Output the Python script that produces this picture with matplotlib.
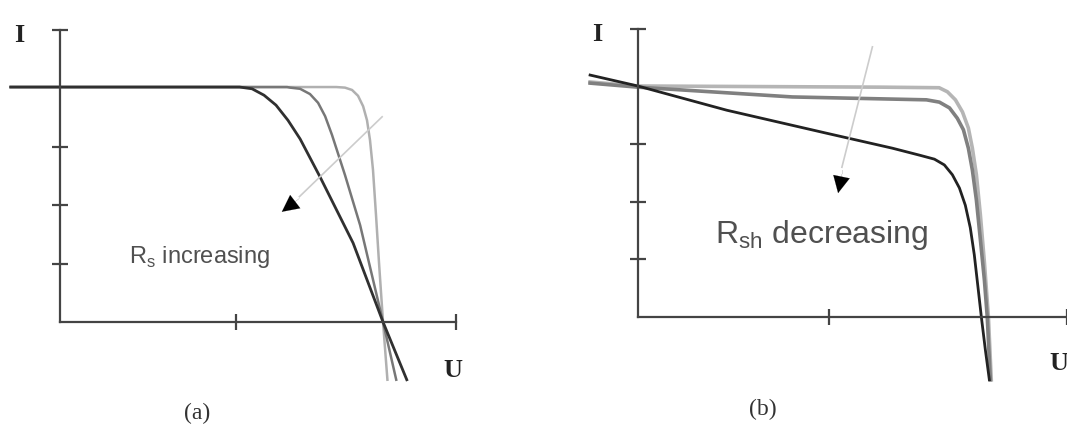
import matplotlib
matplotlib.use("Agg")
import matplotlib.pyplot as plt

# panel (a): series resistance Rs, three I-U curves (light -> dark = Rs increasing)
a_light_u = [-0.28, 1.20, 1.57, 1.619, 1.659, 1.693, 1.722, 1.744, 1.761, 1.778, 1.795, 1.813, 1.835, 1.86]
a_light_i = [4.03, 4.03, 4.03, 4.02, 3.98, 3.88, 3.70, 3.46, 3.12, 2.61, 1.84, 0.98, 0.0, -0.99]
a_mid_u = [-0.28, 1.10, 1.29, 1.307, 1.364, 1.42, 1.466, 1.506, 1.545, 1.619, 1.705, 1.835, 1.91]
a_mid_i = [4.03, 4.03, 4.03, 4.02, 4.00, 3.91, 3.76, 3.53, 3.21, 2.52, 1.66, 0.0, -0.99]
a_dark_u = [-0.28, 1.02, 1.091, 1.159, 1.227, 1.295, 1.364, 1.477, 1.665, 1.835, 1.97]
a_dark_i = [4.03, 4.03, 4.00, 3.89, 3.72, 3.46, 3.14, 2.49, 1.355, 0.0, -0.99]

# panel (b): shunt resistance Rsh
b_light_u = [-0.25, 0.0, 1.27, 1.58, 1.623, 1.665, 1.702, 1.733, 1.754, 1.775, 1.796, 1.817, 1.838, 1.853]
b_light_i = [4.08, 4.01, 3.99, 3.98, 3.91, 3.77, 3.56, 3.28, 2.93, 2.47, 1.77, 0.95, 0.0, -1.09]
b_mid_u = [-0.25, 0.0, 0.81, 1.513, 1.581, 1.634, 1.675, 1.707, 1.733, 1.754, 1.775, 1.796, 1.817, 1.832, 1.848]
b_mid_i = [4.06, 3.99, 3.82, 3.77, 3.73, 3.63, 3.45, 3.25, 2.93, 2.55, 2.03, 1.34, 0.64, 0.0, -1.09]
b_dark_u = [-0.25, 0.0, 0.466, 0.99, 1.335, 1.476, 1.555, 1.607, 1.649, 1.686, 1.717, 1.743, 1.764,
            1.785, 1.801, 1.822, 1.843]
b_dark_i = [4.20, 4.01, 3.59, 3.19, 2.93, 2.81, 2.74, 2.64, 2.47, 2.24, 1.94, 1.55, 1.08,
            0.47, 0.0, -0.57, -1.09]

i_ticks = [1, 2, 3, 5]
u_ticks = [1, 2.25]

fig = plt.figure(figsize=(10.67, 4.36), dpi=100)
ax_a = fig.add_axes([0, 0, 530 / 1067, 1])
ax_b = fig.add_axes([530 / 1067, 0, 537 / 1067, 1])

axis_col = "#444444"


def setup(ax, xlim, ylim):
    ax.set_xlim(*xlim)
    ax.set_ylim(*ylim)
    for s in ["top", "right"]:
        ax.spines[s].set_visible(False)
    ax.spines["left"].set_position(("data", 0))
    ax.spines["bottom"].set_position(("data", 0))
    ax.spines["left"].set_bounds(0, 5)
    ax.spines["bottom"].set_bounds(0, 2.25)
    for s in ["left", "bottom"]:
        ax.spines[s].set_color(axis_col)
        ax.spines[s].set_linewidth(1.6)
    ax.set_xticks(u_ticks)
    ax.set_yticks(i_ticks)
    ax.set_xticklabels([])
    ax.set_yticklabels([])
    ax.tick_params(direction="inout", length=12, width=1.6, color=axis_col)
    ax.patch.set_alpha(0)


setup(ax_a, (-0.341, 2.67), (-1.955, 5.523))
setup(ax_b, (-0.565, 2.246), (-2.066, 5.503))

# panel (a) curves
ax_a.plot(a_light_u, a_light_i, color="#b0b0b0", lw=1.8)
ax_a.plot(a_mid_u, a_mid_i, color="#777777", lw=1.8)
ax_a.plot(a_dark_u, a_dark_i, color="#303030", lw=2.0)

# panel (b) curves
ax_b.plot(b_light_u, b_light_i, color="#b5b5b5", lw=2.6)
ax_b.plot(b_mid_u, b_mid_i, color="#808080", lw=2.6)
ax_b.plot(b_dark_u, b_dark_i, color="#222222", lw=2.0)

# arrows: faint shaft with a solid black head
head = dict(arrowstyle="-|>,head_length=1.2,head_width=0.6",
            color="black", lw=0.1, shrinkA=0, shrinkB=0)
ax_a.plot([1.83, 1.36], [3.52, 2.15], color="#cccccc", lw=1.2)
ax_a.annotate("", xy=(1.26, 1.89), xytext=(1.36, 2.12), arrowprops=head)
ax_b.plot([1.23, 1.07], [4.69, 2.60], color="#cccccc", lw=1.2)
ax_b.annotate("", xy=(1.05, 2.15), xytext=(1.075, 2.55), arrowprops=head)

# labels
serif = "Liberation Serif"
for ax, ipos, upos in [(ax_a, (-0.233, 4.92), (2.233, -0.84)),
                       (ax_b, (-0.215, 4.90), (2.21, -0.80))]:
    ax.text(*ipos, "I", family=serif, weight="bold", fontsize=19,
            ha="center", va="center", color="#222222")
    ax.text(*upos, "U", family=serif, weight="bold", fontsize=19,
            ha="center", va="center", color="#222222")

ax_a.text(0.778, -1.56, "(a)", family=serif, fontsize=17, ha="center", va="center", color="#333333")
ax_b.text(0.654, -1.61, "(b)", family=serif, fontsize=17, ha="center", va="center", color="#333333")

ax_a.text(0.795, 1.115, r"R$_\mathregular{s}$ increasing", family="Liberation Sans",
          fontsize=17, ha="center", va="center", color="#505050")
ax_b.text(0.963, 1.42, r"R$_\mathregular{sh}$ decreasing", family="Liberation Sans",
          fontsize=23, ha="center", va="center", color="#505050")

fig.savefig("out.png", dpi=100)
